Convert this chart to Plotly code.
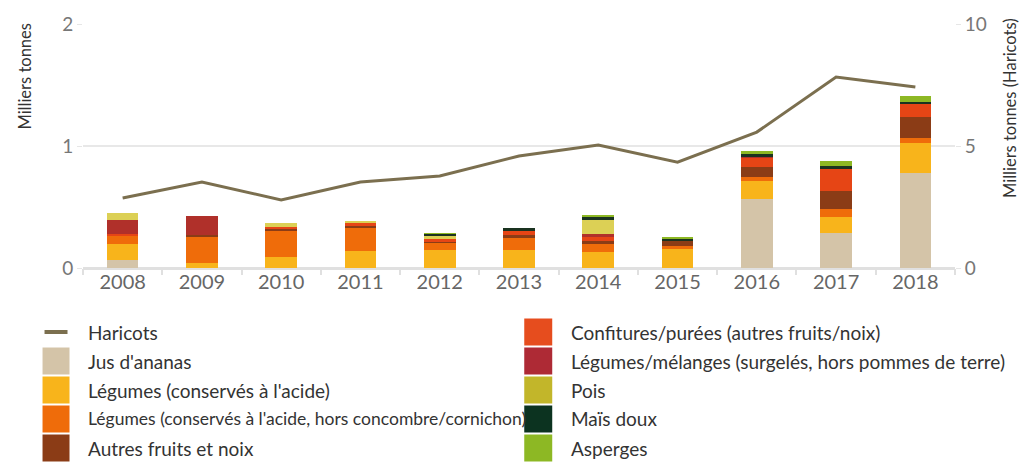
import plotly.graph_objects as go

years = ["2008", "2009", "2010", "2011", "2012", "2013", "2014", "2015", "2016", "2017", "2018"]

haricots = [2.87, 3.52, 2.79, 3.52, 3.77, 4.59, 5.04, 4.34, 5.57, 7.83, 7.42]

jus_ananas = [0.063, 0, 0, 0, 0, 0, 0, 0, 0.567, 0.29, 0.776]
legumes_acide = [0.131, 0.038, 0.087, 0.14, 0.148, 0.145, 0.13, 0.156, 0.148, 0.13, 0.25]
legumes_hors = [0.074, 0.22, 0.213, 0.19, 0.06, 0.107, 0.066, 0.025, 0.033, 0.066, 0.041]
autres_fruits = [0, 0.011, 0.025, 0.02, 0.008, 0.016, 0.025, 0.041, 0.082, 0.148, 0.172]
confitures = [0.008, 0, 0.015, 0.015, 0.022, 0.033, 0.033, 0, 0.077, 0.18, 0.107]
melanges = [0.115, 0.16, 0, 0, 0, 0, 0.025, 0, 0.01, 0, 0]
pois = [0.057, 0, 0.025, 0.02, 0.025, 0, 0.115, 0, 0, 0, 0]
mais_doux = [0, 0, 0, 0, 0.016, 0.025, 0.025, 0.016, 0.016, 0.025, 0.016]
asperges = [0, 0, 0, 0, 0.005, 0, 0.008, 0.008, 0.025, 0.041, 0.049]

bar_names = [
    "Jus d'ananas",
    "Légumes (conservés à l'acide)",
    "Légumes (conservés à l'acide, hors concombre/cornichon)",
    "Autres fruits et noix",
    "Confitures/purées (autres fruits/noix)",
    "Légumes/mélanges (surgelés, hors pommes de terre)",
    "Pois",
    "Maïs doux",
    "Asperges",
]
bar_values = [jus_ananas, legumes_acide, legumes_hors, autres_fruits, confitures,
              melanges, pois, mais_doux, asperges]
bar_colors = ["#d4c4a8", "#f8b41b", "#ef6c0a", "#8b3c16", "#e64515",
              "#b0302a", "#dcd055", "#1a3320", "#8db824"]
legend_colors = ["#d4c4a8", "#f8b41b", "#ef6c0a", "#8b3c16", "#e64d1e",
                 "#ae2a35", "#c2b62a", "#0c3320", "#8db824"]
line_color = "#7b6f4f"

fig = go.Figure()
for name, vals, col in zip(bar_names, bar_values, bar_colors):
    fig.add_trace(go.Bar(x=years, y=vals, name=name, marker_color=col,
                         marker_line_width=0, width=0.4, showlegend=False))

fig.add_trace(go.Scatter(x=years, y=haricots, name="Haricots", mode="lines",
                         line=dict(color=line_color, width=3), yaxis="y2",
                         showlegend=False))

FONT = "Lato, 'Open Sans', sans-serif"

# page is offset by the browser's 8px body margin
OFF = 8
W, H = 1022, 455
L, R, T, B = 82.5 - OFF, 75, 24 - OFF, 195
pw, ph = W - L - R, H - T - B

def px_x(x):
    return (x - OFF - L) / pw

def px_y(y):
    return (H - B - (y - OFF)) / ph

shapes = []
annotations = []
legend_items = [("Haricots", line_color, "line")] + [
    (n, c, "box") for n, c in zip(bar_names, legend_colors)]
rows = [332, 361, 390, 419, 448]
cols = [(42, 69, 86), (524, 552, 569)]
for i, (name, col, kind) in enumerate(legend_items):
    c = i // 5
    r = i % 5
    x0, x1, xt = cols[c]
    yc = rows[r]
    if kind == "line":
        shapes.append(dict(type="line", xref="paper", yref="paper",
                           x0=px_x(x0 + 2), x1=px_x(x1 - 2), y0=px_y(yc), y1=px_y(yc),
                           line=dict(color=col, width=4)))
    else:
        shapes.append(dict(type="rect", xref="paper", yref="paper",
                           x0=px_x(x0), x1=px_x(x1), y0=px_y(yc - 13.5), y1=px_y(yc + 13.5),
                           fillcolor=col, line=dict(width=0)))
    fs = 19
    if "cornichon" in name:
        fs = 17.5
    annotations.append(dict(text=name, xref="paper", yref="paper",
                            x=px_x(xt), y=px_y(yc), xanchor="left", yanchor="middle",
                            showarrow=False, font=dict(family=FONT, size=fs, color="#333333")))

# axis titles, aligned to the top of the plot as in the reference
annotations.append(dict(text="Milliers tonnes", xref="paper", yref="paper",
                        x=px_x(24), y=px_y(22), xanchor="center", yanchor="top",
                        textangle=-90, showarrow=False,
                        font=dict(family=FONT, size=16.5, color="#333333")))
annotations.append(dict(text="Milliers tonnes (Haricots)", xref="paper", yref="paper",
                        x=px_x(1010), y=px_y(16), xanchor="center", yanchor="top",
                        textangle=-90, showarrow=False,
                        font=dict(family=FONT, size=16.5, color="#333333")))

fig.update_layout(
    width=W, height=H,
    margin=dict(l=L, r=R, t=T, b=B, pad=0, autoexpand=False),
    paper_bgcolor="white", plot_bgcolor="white",
    barmode="stack",
    showlegend=False,
    font=dict(family=FONT, color="#666666"),
    xaxis=dict(
        type="category", automargin=False,
        tickfont=dict(size=20, color="#666666"),
        ticks="outside", ticklen=6, tickcolor="#e0e0e0", tickwidth=2,
        tickson="boundaries",
        showline=False, showgrid=False,
    ),
    yaxis=dict(
        range=[0, 2], tickvals=[0, 1, 2], automargin=False,
        tickfont=dict(size=19, color="#777777"),
        showgrid=True, gridcolor="#e8e8e8", gridwidth=2,
        zeroline=True, zerolinecolor="#e0e0e0", zerolinewidth=3,
        ticks="outside", ticklen=5, tickcolor="#e6e6e6",
    ),
    yaxis2=dict(
        range=[0, 10], tickvals=[0, 5, 10], overlaying="y", side="right", automargin=False,
        tickfont=dict(size=19, color="#777777"),
        showgrid=False, zeroline=False,
        ticks="outside", ticklen=5, tickcolor="#e6e6e6",
    ),
    shapes=shapes,
    annotations=annotations,
)

fig.write_html("out.html")
